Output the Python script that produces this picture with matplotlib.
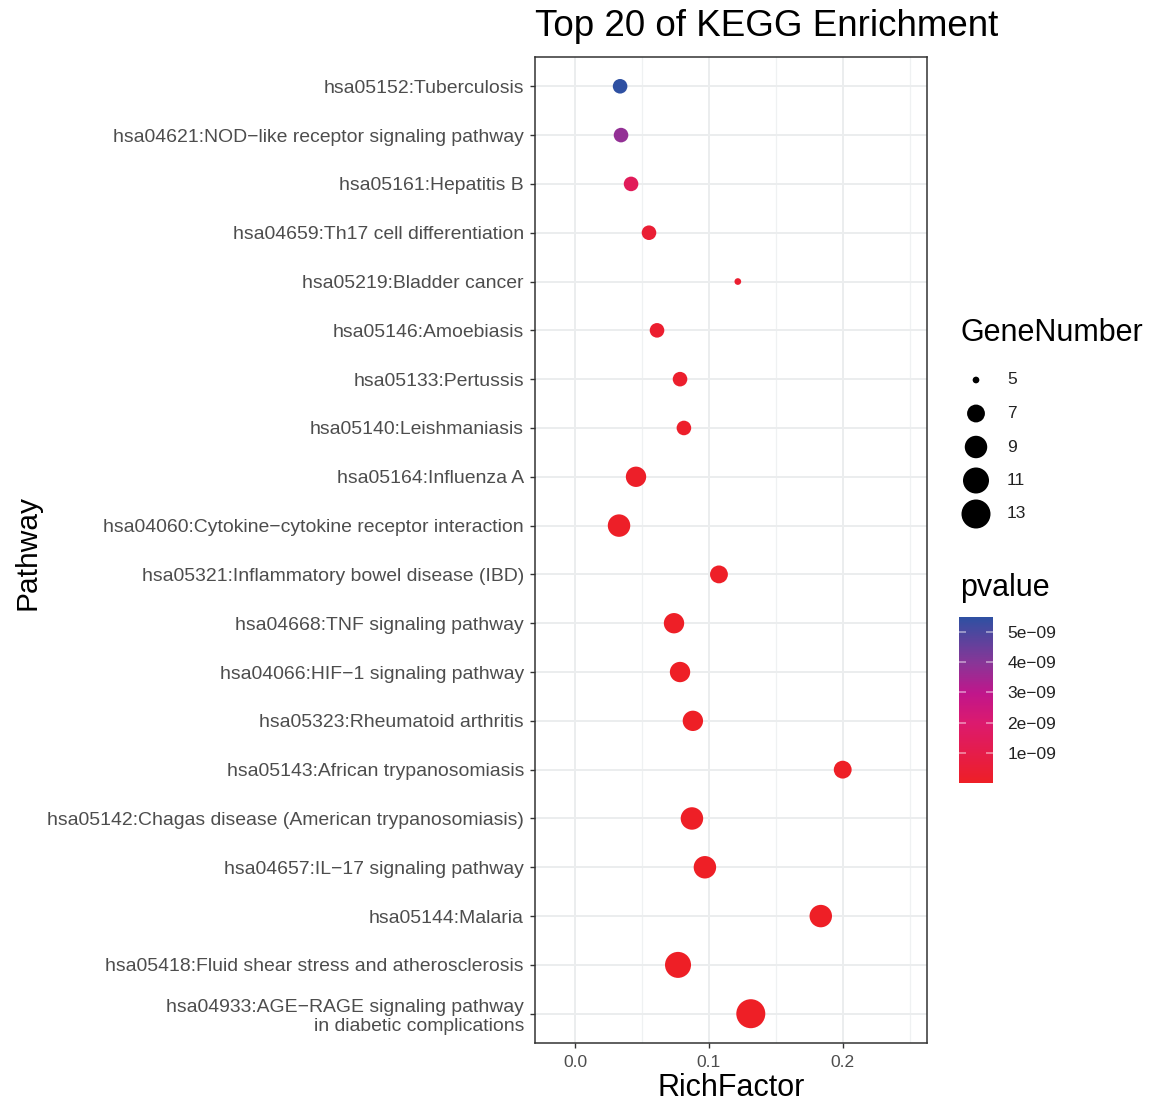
import matplotlib
matplotlib.use("Agg")
import matplotlib.pyplot as plt
import numpy as np
from matplotlib.colors import LinearSegmentedColormap

plt.rcParams["font.family"] = ["Liberation Sans", "DejaVu Sans"]

# ---- data -------------------------------------------------------------
pathways = [
    "hsa05152:Tuberculosis",
    "hsa04621:NOD\u2212like receptor signaling pathway",
    "hsa05161:Hepatitis B",
    "hsa04659:Th17 cell differentiation",
    "hsa05219:Bladder cancer",
    "hsa05146:Amoebiasis",
    "hsa05133:Pertussis",
    "hsa05140:Leishmaniasis",
    "hsa05164:Influenza A",
    "hsa04060:Cytokine\u2212cytokine receptor interaction",
    "hsa05321:Inflammatory bowel disease (IBD)",
    "hsa04668:TNF signaling pathway",
    "hsa04066:HIF\u22121 signaling pathway",
    "hsa05323:Rheumatoid arthritis",
    "hsa05143:African trypanosomiasis",
    "hsa05142:Chagas disease (American trypanosomiasis)",
    "hsa04657:IL\u221217 signaling pathway",
    "hsa05144:Malaria",
    "hsa05418:Fluid shear stress and atherosclerosis",
    "hsa04933:AGE\u2212RAGE signaling pathway\nin diabetic complications",
]
rich_factor = [0.0336, 0.0343, 0.0418, 0.0552, 0.1216, 0.0612, 0.0784, 0.0813,
               0.0455, 0.0328, 0.1075, 0.0739, 0.0784, 0.0880, 0.2000, 0.0873,
               0.0970, 0.1836, 0.0769, 0.1313]
gene_number = [6, 6, 6, 6, 5, 6, 6, 6, 8, 9, 7, 8, 8, 8, 7, 9, 9, 9, 11, 13]
pvalue = [5.5e-9, 3.8e-9, 1.4e-9, 4.0e-10, 3.0e-10, 2.5e-10, 2.0e-10, 1.5e-10,
          1.0e-10, 8.0e-11, 5.0e-11, 3.0e-11, 2.0e-11, 1.0e-11, 8.0e-12,
          5.0e-12, 2.0e-12, 1.0e-12, 5.0e-13, 1.0e-14]

size_breaks = [5, 7, 9, 11, 13]
p_breaks = [1e-9, 2e-9, 3e-9, 4e-9, 5e-9]
p_labels = ["1e\u221209", "2e\u221209", "3e\u221209", "4e\u221209", "5e\u221209"]
x_ticks = [0.0, 0.1, 0.2]
x_tick_labels = ["0.0", "0.1", "0.2"]

# ---- figure geometry (pixel based) ------------------------------------
W, H, DPI = 1152, 1103, 100
PX = 72.0 / DPI  # points per pixel

fig = plt.figure(figsize=(W / DPI, H / DPI), dpi=DPI)
fig.patch.set_facecolor("white")


def fx(px):
    return px / W


def fy(py):
    return 1 - py / H


def marker_area(g):
    """Point area (pt^2) for a gene count, sqrt-area scaling over 5..13."""
    g = np.asarray(g, dtype=float)
    d_px = 6.7 + 22.3 * np.sqrt((g - 5) / (13 - 5))
    return (d_px * PX) ** 2


cmap = LinearSegmentedColormap.from_list(
    "pv", [(0.0, "#EE1F26"), (0.36, "#DC1A6E"), (0.54, "#C0168B"),
           (0.72, "#8A3597"), (1.0, "#2E50A2")])

ax = fig.add_axes([fx(535), fy(1043), (927 - 535) / W, (1043 - 57) / H])

n = len(pathways)
ypos = np.arange(n)[::-1]
pmax = max(pvalue)

sc = ax.scatter(rich_factor, ypos, s=marker_area(gene_number), c=pvalue,
                cmap=cmap, vmin=0, vmax=pmax, edgecolors="none", zorder=3)

ax.set_xlim(-0.030, 0.263)
ax.set_ylim(-0.6, n - 1 + 0.6)
ax.set_yticks(ypos)
ax.set_yticklabels(pathways, ha="right", linespacing=1.15)
ax.set_xticks(x_ticks)
ax.set_xticklabels(x_tick_labels)
ax.set_xticks([0.05, 0.15, 0.25], minor=True)

ax.set_axisbelow(True)
ax.grid(which="major", color="#EBEDEE", linewidth=1.4)
ax.grid(which="minor", axis="x", color="#EFF1F2", linewidth=0.9)

for sp in ax.spines.values():
    sp.set_color("#333333")
    sp.set_linewidth(1.1)

ax.tick_params(axis="both", which="major", length=4 * PX * 1.3, width=1.0,
               color="#333333", labelcolor="#4D4D4D")
ax.tick_params(axis="y", labelsize=13.95, pad=4.2)
ax.tick_params(axis="x", labelsize=12.5, pad=5)
ax.tick_params(which="minor", length=0)

# titles
fig.text(fx(535), fy(27), "Top 20 of KEGG Enrichment", fontsize=26.5,
         ha="left", va="center", color="black")
fig.text(fx(28), fy(552), "Pathway", fontsize=21.5, rotation=90,
         ha="center", va="center")
fig.text(fx(731), fy(1088), "RichFactor", fontsize=22,
         ha="center", va="center")

# ---- GeneNumber legend ------------------------------------------------
fig.text(fx(960), fy(333), "GeneNumber", fontsize=22, ha="left", va="center")
lax = fig.add_axes([fx(950), fy(535), 200 / W, (535 - 360) / H])
lax.set_xlim(950, 1150)
lax.set_ylim(535, 360)
lax.axis("off")
key_y = 380 + 33.5 * np.arange(len(size_breaks))
lax.scatter(np.full(len(size_breaks), 976), key_y, s=marker_area(size_breaks),
            c="black", edgecolors="none")
for yy, g in zip(key_y, size_breaks):
    lax.text(1007, yy, str(g), fontsize=12.5, ha="left", va="center",
             color="#222222")

# ---- pvalue colour bar ------------------------------------------------
fig.text(fx(960), fy(588), "pvalue", fontsize=22, ha="left", va="center")
cax = fig.add_axes([fx(959), fy(783), (993 - 959) / W, (783 - 617) / H])
cb = fig.colorbar(sc, cax=cax, ticks=p_breaks)
cb.outline.set_visible(False)
cb.ax.set_yticklabels(p_labels)
cb.ax.minorticks_off()
cax.tick_params(which="major", direction="in", left=True, right=True,
                length=5, width=1.2, color=(1, 1, 1, 0.5),
                labelsize=12.5, labelcolor="#222222", pad=10.5)

fig.savefig("out.png", dpi=DPI, facecolor="white")
